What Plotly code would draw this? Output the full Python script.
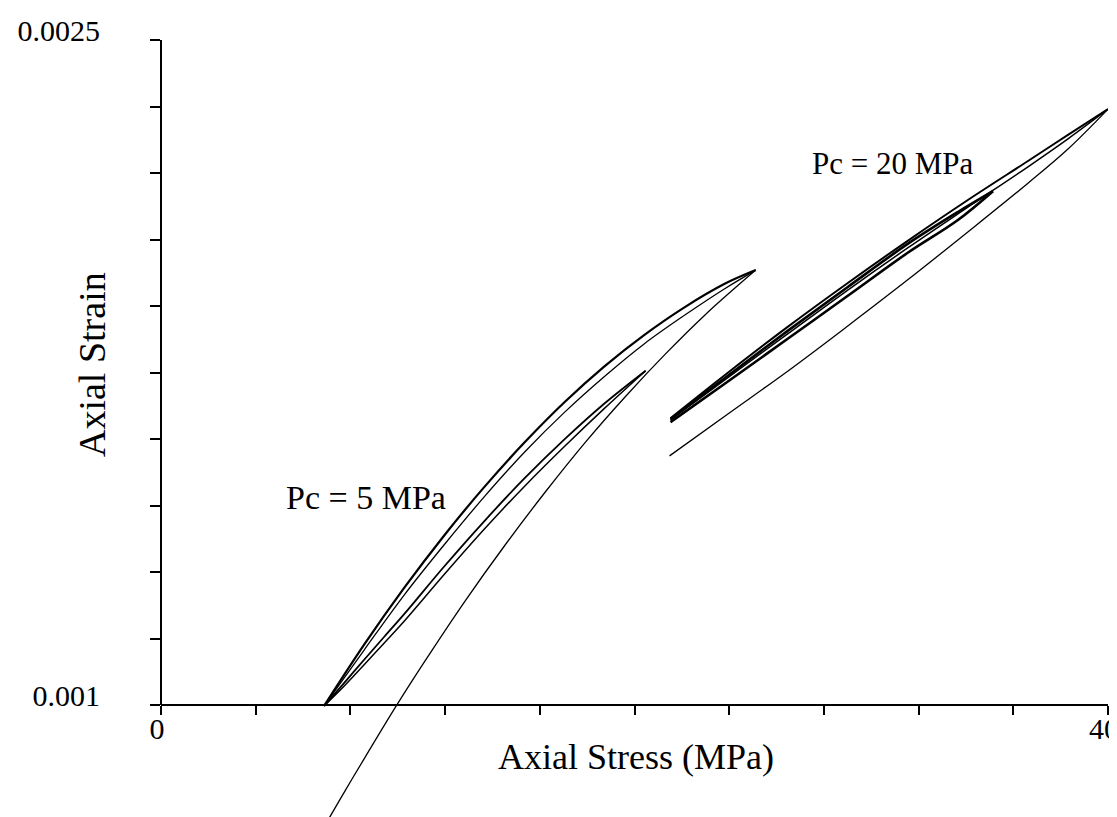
import plotly.graph_objects as go

# ---------------- data (stress MPa, strain) ----------------
# Pc = 5 MPa
pc5_load_x = [6.93, 7.78, 8.63, 9.89, 11.16, 12.85, 14.55, 16.24, 17.93, 19.62, 21.31, 23.00, 25.12]
pc5_load_y = [0.000729, 0.000807, 0.000883, 0.000994, 0.001100, 0.001235, 0.001362, 0.001481,
              0.001593, 0.001696, 0.001792, 0.001881, 0.001981]

pc5_unload_x = [25.12, 23.81, 22.11, 20.42, 18.73, 17.04, 15.35, 13.66, 11.97, 10.27, 8.58, 6.89]
pc5_unload_y = [0.001981, 0.001950, 0.001897, 0.001835, 0.001764, 0.001683, 0.001592, 0.001492,
                0.001383, 0.001264, 0.001136, 0.000998]

pc5_reload_x = [6.89, 8.58, 10.27, 11.97, 13.66, 15.35, 17.04, 18.73, 20.42, 22.11, 23.81, 25.12]
pc5_reload_y = [0.000998, 0.001124, 0.001248, 0.001362, 0.001470, 0.001570, 0.001660, 0.001741,
                0.001815, 0.001879, 0.001939, 0.001981]

pc5_inner_up_x = [20.47, 18.73, 17.04, 15.35, 13.66, 11.97, 10.27, 9.43, 8.58, 7.74, 6.89]
pc5_inner_up_y = [0.001754, 0.001680, 0.001599, 0.001511, 0.001415, 0.001313, 0.001205, 0.001154,
                  0.001102, 0.001050, 0.000998]

pc5_inner_lo_x = [6.89, 7.74, 8.58, 9.43, 10.27, 11.97, 13.66, 15.35, 17.04, 18.73, 20.47]
pc5_inner_lo_y = [0.000998, 0.001043, 0.001091, 0.001140, 0.001189, 0.001295, 0.001397, 0.001493,
                  0.001583, 0.001669, 0.001754]

# Pc = 20 MPa
pc20_load_x = [21.48, 23.93, 26.47, 29.01, 31.54, 34.08, 36.62, 38.31, 40.0]
pc20_load_y = [0.001562, 0.001656, 0.001753, 0.001855, 0.001959, 0.002067, 0.002177, 0.002254, 0.002344]

pc20_unload_x = [40.0, 38.31, 36.62, 34.08, 31.54, 29.01, 26.47, 23.93, 21.52]
pc20_unload_y = [0.002344, 0.002286, 0.002227, 0.002139, 0.002047, 0.001952, 0.001853, 0.001749, 0.001647]

pc20_reload_x = [21.52, 23.93, 26.47, 29.01, 31.54, 34.08, 36.62, 38.31, 40.0]
pc20_reload_y = [0.001643, 0.001738, 0.001837, 0.001936, 0.002031, 0.002123, 0.002214, 0.002277, 0.002344]

pc20_inner_up_x = [35.14, 33.66, 31.54, 29.01, 26.47, 23.93, 21.52]
pc20_inner_up_y = [0.002159, 0.002112, 0.002040, 0.001943, 0.001844, 0.001742, 0.001645]

pc20_inner_lo_x = [21.52, 23.93, 26.47, 29.01, 31.54, 33.66, 35.14]
pc20_inner_lo_y = [0.001638, 0.001729, 0.001826, 0.001923, 0.002020, 0.002094, 0.002159]

x_tick_vals = [0, 4, 8, 12, 16, 20, 24, 28, 32, 36, 40]
x_tick_text = ["0", "", "", "", "", "", "", "", "", "", "40"]
y_tick_vals = [0.001, 0.00115, 0.0013, 0.00145, 0.0016, 0.00175, 0.0019, 0.00205, 0.0022, 0.00235, 0.0025]
y_tick_text = ["0.001", "", "", "", "", "", "", "", "", "", "0.0025"]

labels = ["Pc = 5 MPa", "Pc = 20 MPa"]
label_x = [8.65, 30.93]
label_y = [0.001467, 0.0022225]
label_size = [34, 31]

# ---------------- figure ----------------
FONT = "Liberation Serif"
W, H = 1117, 817
L, R, T, B = 153, 17, 32, 0
y_bottom = 0.001 - (817 - 697) * 0.0015 / 665.0
y_top = 0.0025

fig = go.Figure()

series = [
    (pc5_load_x, pc5_load_y, 1.3),
    (pc5_unload_x, pc5_unload_y, 2.2),
    (pc5_reload_x, pc5_reload_y, 1.3),
    (pc5_inner_up_x, pc5_inner_up_y, 1.8),
    (pc5_inner_lo_x, pc5_inner_lo_y, 1.5),
    (pc20_load_x, pc20_load_y, 1.3),
    (pc20_unload_x, pc20_unload_y, 2.0),
    (pc20_reload_x, pc20_reload_y, 1.5),
    (pc20_inner_up_x, pc20_inner_up_y, 2.6),
    (pc20_inner_lo_x, pc20_inner_lo_y, 2.6),
]
for xs, ys, w in series:
    fig.add_trace(go.Scatter(x=xs, y=ys, mode="lines",
                             line=dict(color="black", width=w, shape="spline", smoothing=1.0),
                             showlegend=False, hoverinfo="skip"))

for t, lx, ly, fs in zip(labels, label_x, label_y, label_size):
    fig.add_annotation(x=lx, y=ly, xref="x", yref="y", text=t, showarrow=False,
                       xanchor="center", yanchor="middle",
                       font=dict(family=FONT, size=fs, color="black"))

# axis titles
fig.add_annotation(x=0.5015, y=(817 - 749) / (817 - 32), xref="paper", yref="paper", text="Axial Stress (MPa)",
                   showarrow=False, xanchor="center", yanchor="middle",
                   font=dict(family=FONT, size=36, color="black"))
fig.add_annotation(x=(84 - 153) / 947, y=(817 - 357) / (817 - 32), xref="paper", yref="paper",
                   text="Axial Strain", textangle=-90, showarrow=False, xanchor="center", yanchor="middle",
                   font=dict(family=FONT, size=38, color="black"))

# y-axis line from 0.001 to 0.0025 only
fig.add_shape(type="line", xref="paper", yref="y", x0=0, x1=0, y0=0.001, y1=y_top,
              line=dict(color="black", width=2))

xpos = (0.001 - y_bottom) / (y_top - y_bottom)

fig.update_layout(
    width=W, height=H,
    margin=dict(l=L, r=R, t=T, b=B),
    paper_bgcolor="white", plot_bgcolor="white",
    font=dict(family=FONT, color="black"),
    xaxis=dict(range=[0, 40], anchor="free", position=xpos, showline=True, linecolor="black", linewidth=2,
               ticks="outside", ticklen=9, tickwidth=1.5, tickcolor="black",
               tickvals=x_tick_vals, ticktext=x_tick_text, tickfont=dict(family=FONT, size=30),
               ticklabelshift=-4, ticklabelstandoff=-12,
               showgrid=False, zeroline=False),
    yaxis=dict(range=[y_bottom, y_top], showline=False,
               ticks="outside", ticklen=10, tickwidth=1.5, tickcolor="black",
               tickvals=y_tick_vals, ticktext=y_tick_text, tickfont=dict(family=FONT, size=30),
               ticklabelstandoff=44, ticklabelshift=-10,
               showgrid=False, zeroline=False),
)

fig.write_html("out.html")
